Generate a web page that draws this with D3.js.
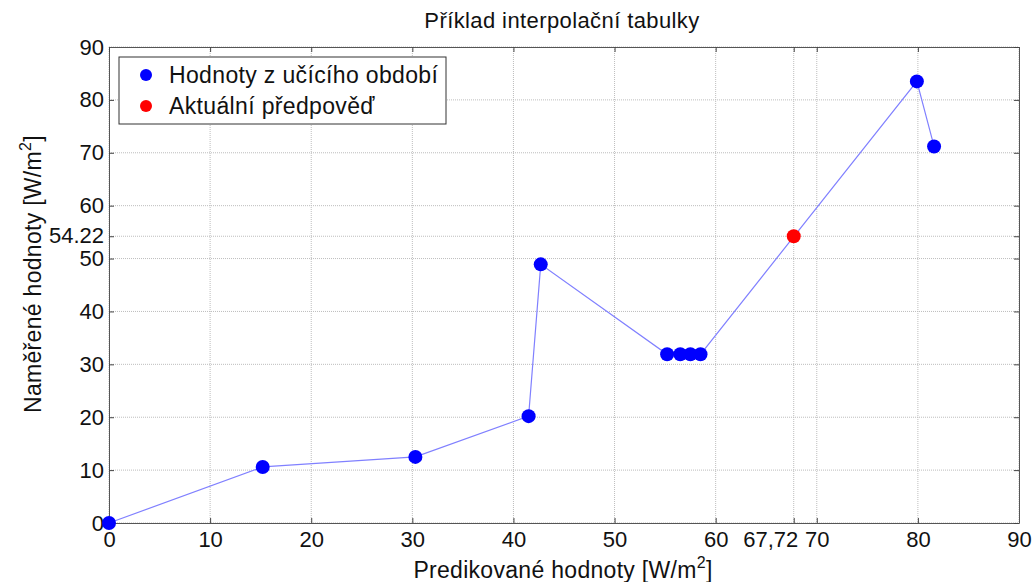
<!DOCTYPE html>
<html>
<head>
<meta charset="utf-8">
<script src="https://cdn.jsdelivr.net/npm/d3@7"></script>
<style>
  body { margin: 0; background: #fff; }
  text { font-family: "Liberation Sans", Arial, sans-serif; fill: #111; }
</style>
</head>
<body>
<div id="chart"></div>
<script>
// data
const xValues = [0, 15.2, 30.3, 41.5, 42.7, 55.2, 56.5, 57.5, 58.5, 79.9, 81.6];
const yValues = [0, 10.6, 12.5, 20.2, 48.9, 31.9, 31.9, 31.9, 31.9, 83.5, 71.2];
const forecastX = [67.72];
const forecastY = [54.22];
const xTicks = [0, 10, 20, 30, 40, 50, 60, 67.72, 70, 80, 90];
const yTicks = [0, 10, 20, 30, 40, 50, 54.22, 60, 70, 80, 90];
const legendLabels = ["Hodnoty z učícího období", "Aktuální předpověď"];

let width = 1033, height = 582;
let margin = {top: 47, right: 14, bottom: 59, left: 109};
let w = width - margin.left - margin.right;
let h = height - margin.top - margin.bottom;

let svg = d3.select("#chart").append("svg")
    .attr("width", width)
    .attr("height", height);

let g = svg.append("g")
    .attr("transform", `translate(${margin.left},${margin.top})`);

let x = d3.scaleLinear().domain([0, 90]).range([0, w]);
let y = d3.scaleLinear().domain([0, 90]).range([h, 0]);

// grid
g.append("g").selectAll("line").data(xTicks).enter().append("line")
    .attr("x1", d => x(d)).attr("x2", d => x(d))
    .attr("y1", 0).attr("y2", h)
    .attr("stroke", "#bdbdbd").attr("stroke-width", 1)
    .attr("stroke-dasharray", "1,1");
g.append("g").selectAll("line").data(yTicks).enter().append("line")
    .attr("x1", 0).attr("x2", w)
    .attr("y1", d => y(d)).attr("y2", d => y(d))
    .attr("stroke", "#bdbdbd").attr("stroke-width", 1)
    .attr("stroke-dasharray", "1,1");

// axes
let fmtX = d => d === 67.72 ? "67,72" : String(d);
let fmtY = d => String(d);

let xAxis = g.append("g")
    .attr("transform", `translate(0,${h})`)
    .call(d3.axisBottom(x).tickValues(xTicks).tickFormat(fmtX).tickSizeInner(-5).tickSizeOuter(0).tickPadding(8));
let yAxis = g.append("g")
    .call(d3.axisLeft(y).tickValues(yTicks).tickFormat(fmtY).tickSizeInner(-5).tickSizeOuter(0).tickPadding(5));

// top and right ticks
g.append("g")
    .call(d3.axisTop(x).tickValues(xTicks).tickFormat("").tickSizeInner(-5).tickSizeOuter(0));
g.append("g")
    .attr("transform", `translate(${w},0)`)
    .call(d3.axisRight(y).tickValues(yTicks).tickFormat("").tickSizeInner(-5).tickSizeOuter(0));

svg.selectAll(".domain").attr("stroke", "#555");
svg.selectAll(".tick line").attr("stroke", "#444");
xAxis.selectAll("text").style("font-size", "22px").attr("fill", "#111");
yAxis.selectAll("text").style("font-size", "22px").attr("fill", "#111");

// the 67,72 label sits left of its tick so it clears the 70
xAxis.selectAll(".tick").filter(d => d === 67.72).select("text")
    .attr("text-anchor", "end").attr("x", 4);
// 54.22 is squeezed above the 50
yAxis.selectAll(".tick").filter(d => d === 54.22).select("text")
    .attr("y", -1);

// line through the learning values
let line = d3.line().x(d => x(d[0])).y(d => y(d[1]));
let pts = xValues.map((d, i) => [d, yValues[i]]);
g.append("path")
    .datum(pts)
    .attr("d", line)
    .attr("fill", "none")
    .attr("stroke", "#8080ff")
    .attr("stroke-width", 1.2);

g.selectAll(".pt").data(pts).enter().append("circle")
    .attr("class", "pt")
    .attr("cx", d => x(d[0])).attr("cy", d => y(d[1]))
    .attr("r", 7).attr("fill", "#0000ff");

g.selectAll(".fc").data(forecastX.map((d, i) => [d, forecastY[i]])).enter().append("circle")
    .attr("class", "fc")
    .attr("cx", d => x(d[0])).attr("cy", d => y(d[1]))
    .attr("r", 7).attr("fill", "#ff0000");

// legend
let legend = svg.append("g").attr("transform", "translate(119,57)");
legend.append("rect")
    .attr("width", 327).attr("height", 67)
    .attr("fill", "#fff").attr("stroke", "#333").attr("stroke-width", 1);
let legendColors = ["#0000ff", "#ff0000"];
legendLabels.forEach((lab, i) => {
    legend.append("circle")
        .attr("cx", 27).attr("cy", 18 + i * 31)
        .attr("r", 6).attr("fill", legendColors[i]);
    legend.append("text")
        .attr("x", 50).attr("y", 18 + i * 31)
        .attr("dy", "0.35em")
        .style("font-size", "23px")
        .style("letter-spacing", "0.35px")
        .text(lab);
});

// title and axis labels
svg.append("text")
    .attr("x", 562).attr("y", 28)
    .attr("text-anchor", "middle")
    .style("font-size", "22px")
    .style("letter-spacing", "0.4px")
    .text("Příklad interpolační tabulky");

let xl = svg.append("text")
    .attr("x", 563).attr("y", 578)
    .attr("text-anchor", "middle")
    .style("font-size", "23px")
    .style("letter-spacing", "0.3px");
xl.append("tspan").text("Predikované hodnoty [W/m");
xl.append("tspan").attr("dy", -10).style("font-size", "16px").text("2");
xl.append("tspan").attr("dy", 10).text("]");

let yl = svg.append("text")
    .attr("transform", "translate(41,274) rotate(-90)")
    .attr("text-anchor", "middle")
    .style("font-size", "23px")
    .style("letter-spacing", "0.3px");
yl.append("tspan").text("Naměřené hodnoty [W/m");
yl.append("tspan").attr("dy", -10).style("font-size", "16px").text("2");
yl.append("tspan").attr("dy", 10).text("]");
</script>
</body>
</html>
